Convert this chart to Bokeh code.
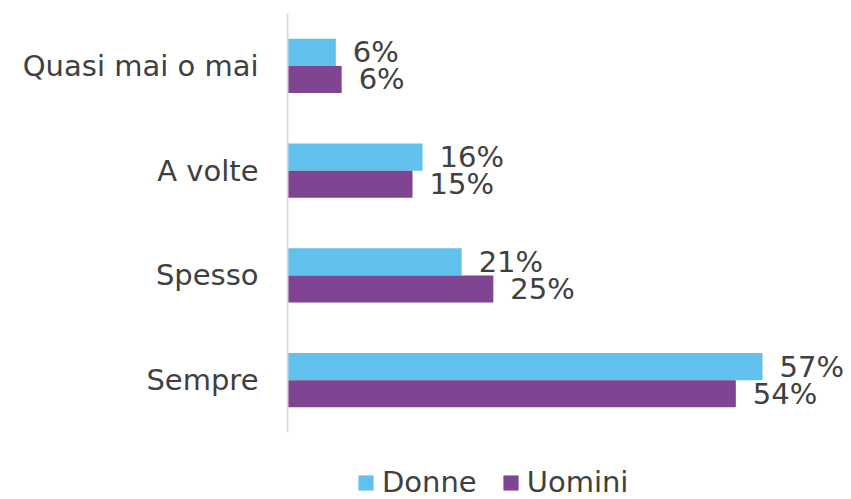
from bokeh.plotting import figure
from bokeh.models import ColumnDataSource, Range1d, Legend, LegendItem, FixedTicker
from bokeh.core.properties import value
from bokeh.embed import file_html
from bokeh.resources import INLINE

categories = ["Quasi mai o mai", "A volte", "Spesso", "Sempre"]
donne = [5.8, 16.2, 20.9, 57.0]
uomini = [6.5, 15.0, 24.7, 53.8]
donne_labels = ["6%", "16%", "21%", "57%"]
uomini_labels = ["6%", "15%", "25%", "54%"]
series_names = ["Donne", "Uomini"]
colors = ["#61C1EC", "#804592"]

FONT = "DejaVu Sans"
TXT = "#404040"

n = len(categories)
ypos = [n - 1 - i for i in range(n)]
bh = 0.258
src = ColumnDataSource(dict(y=ypos, yd=[v + bh / 2 for v in ypos],
                            yu=[v - bh / 2 for v in ypos],
                            donne=donne, uomini=uomini,
                            dl=donne_labels, ul=uomini_labels))

W, H = 851, 499
left, top = 286, 13
unit = 104.75  # px per category
p = figure(width=W, height=H, output_backend="svg", toolbar_location=None,
           x_range=Range1d(-0.12, 67.68),
           y_range=Range1d(-0.5 - (H - 432) / unit, n - 0.5 + top / unit),
           min_border_left=left, min_border_right=0, min_border_top=0,
           min_border_bottom=0)
p.outline_line_color = None
p.xgrid.visible = False
p.ygrid.visible = False
p.xaxis.visible = False

r1 = p.hbar(y="yd", right="donne", left=0, height=bh, source=src,
            fill_color=colors[0], line_color=None)
r2 = p.hbar(y="yu", right="uomini", left=0, height=bh, source=src,
            fill_color=colors[1], line_color=None)

# category axis line
p.segment(x0=[0], y0=[-0.5], x1=[0], y1=[n - 0.5], line_color="#D9D9D9",
          line_width=2)

p.text(x="donne", y="yd", text="dl", source=src,
       x_offset=17, text_align="left", text_baseline="middle",
       text_font=value(FONT), text_font_size="29px", text_color=TXT)
p.text(x="uomini", y="yu", text="ul", source=src,
       x_offset=17, text_align="left", text_baseline="middle",
       text_font=value(FONT), text_font_size="29px", text_color=TXT)

ax = p.yaxis[0]
ax.ticker = FixedTicker(ticks=ypos)
ax.major_label_overrides = {v: c for v, c in zip(ypos, categories)}
ax.axis_line_color = None
ax.major_tick_line_color = None
ax.minor_tick_line_color = None
ax.major_tick_out = 0
ax.major_tick_in = 0
ax.major_label_standoff = 28
ax.major_label_text_font = FONT
ax.major_label_text_font_size = "29px"
ax.major_label_text_color = TXT

legend = Legend(items=[LegendItem(label=series_names[0], renderers=[r1]),
                       LegendItem(label=series_names[1], renderers=[r2])],
                orientation="horizontal", location=(70, 0),
                glyph_width=19, glyph_height=19, label_standoff=7, spacing=24,
                padding=0, margin=0, border_line_color=None,
                background_fill_alpha=0,
                label_text_font=FONT, label_text_font_size="29px",
                label_text_color=TXT)
p.add_layout(legend, "center")

open("out.html", "w").write(file_html(p, INLINE))
